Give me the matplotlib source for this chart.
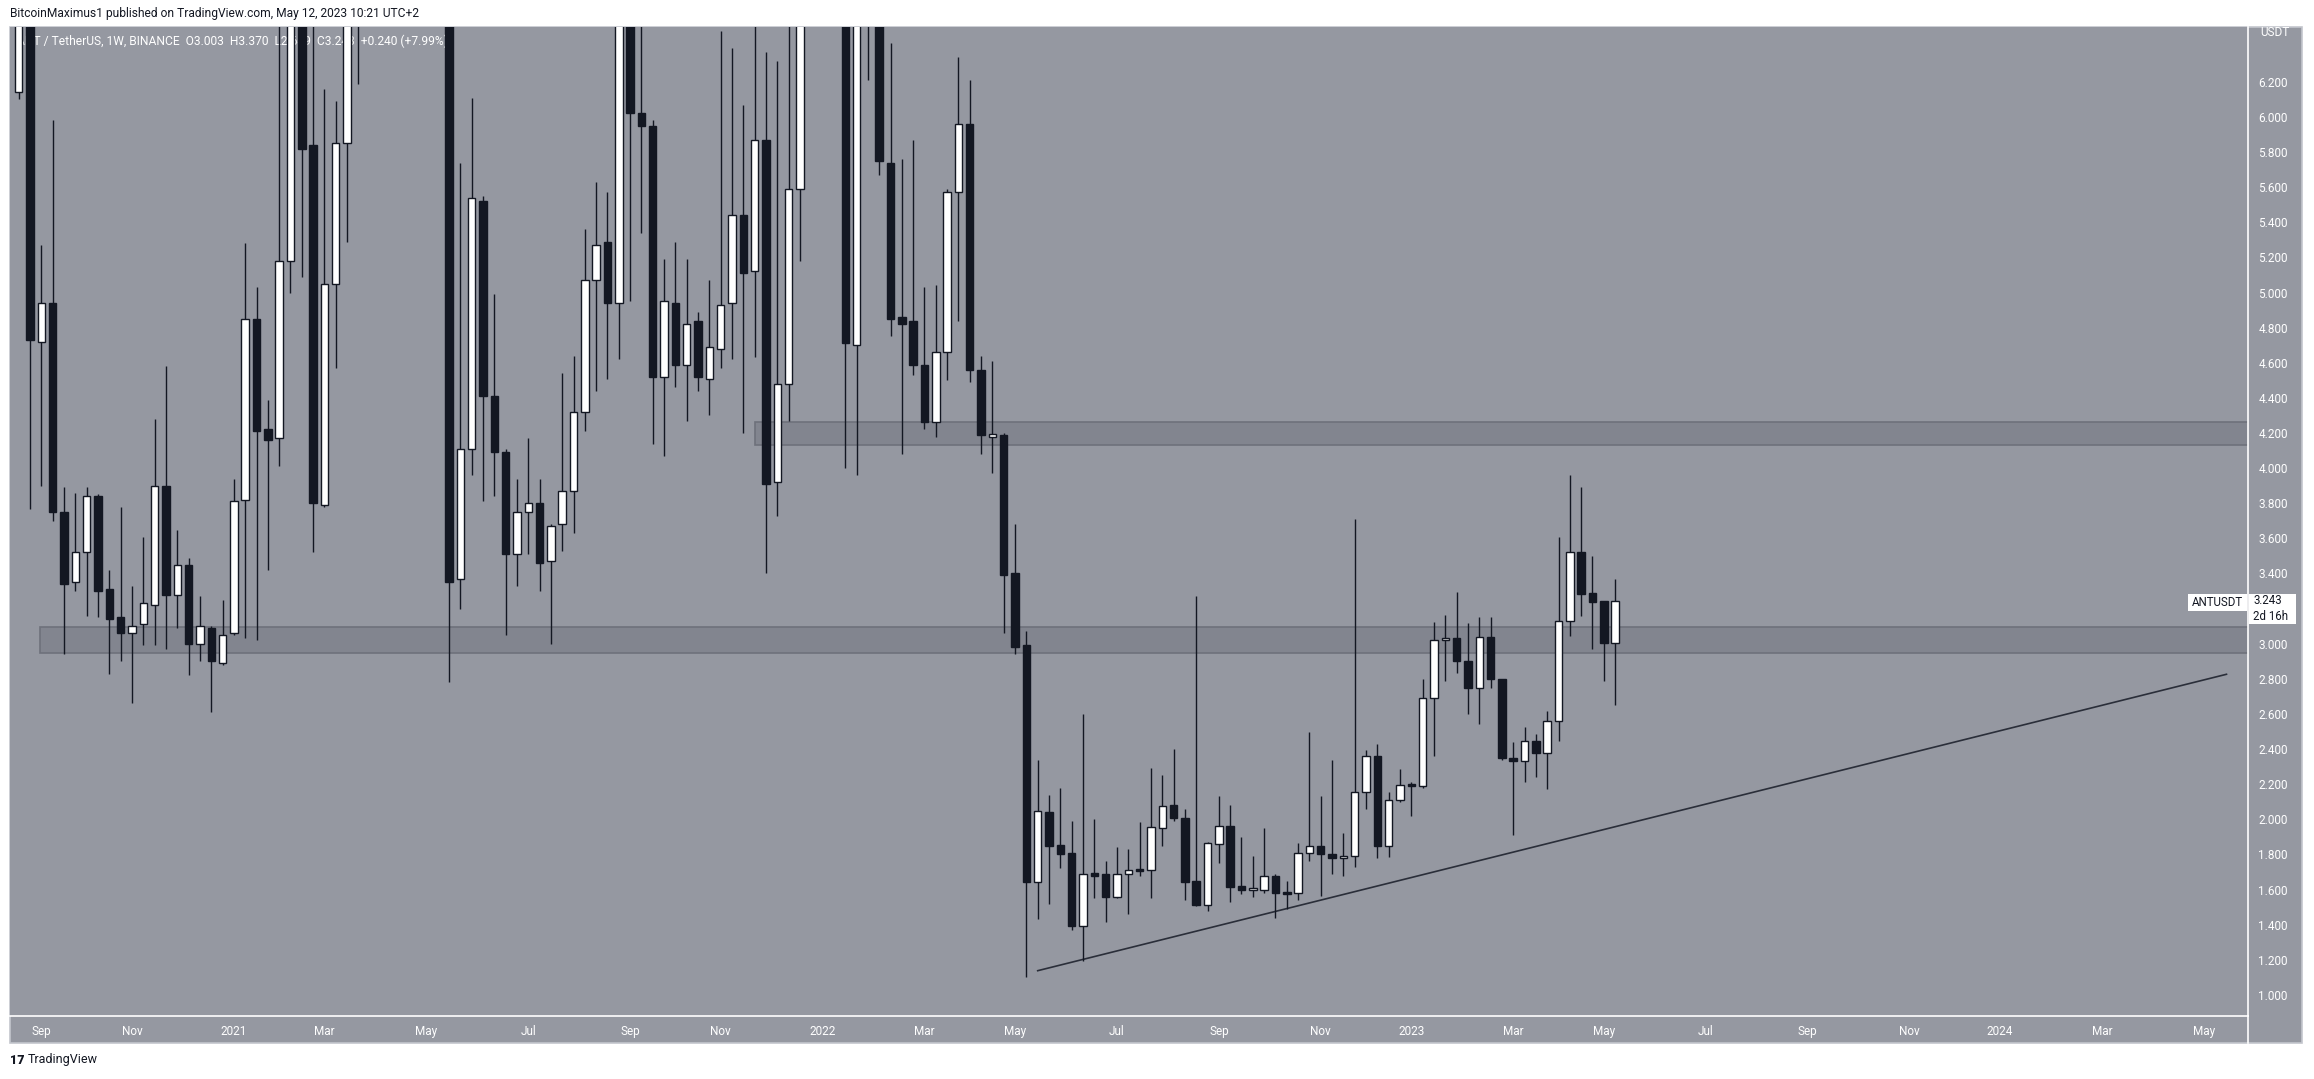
import matplotlib
matplotlib.use("Agg")
import matplotlib.pyplot as plt
import matplotlib.dates as mdates
from matplotlib.patches import Rectangle
from matplotlib.lines import Line2D
import numpy as np
import pandas as pd

plt.rcParams['font.family'] = ['Roboto', 'DejaVu Sans']

W, H = 2314, 1079

# weekly ANT/USDT candles, first bar 2020-08-24 (values read off the chart,
# bars running off the top of the chart are rough guesses)
start = "2020-08-24"
opens = [6.14, 7.05, 4.72, 4.94, 3.75, 3.35, 3.52, 3.84, 3.31, 3.15,
         3.06, 3.11, 3.22, 3.90, 3.28, 3.45, 3.00, 3.09, 2.89, 3.06,
         3.82, 4.85, 4.22, 4.17, 5.18, 7.50, 5.84, 3.79, 5.05, 5.85,
         6.95, 8.20, 9.50, 8.80, 10.20, 9.00, 9.80, 8.60, 7.60, 3.37,
         4.11, 5.52, 4.41, 4.09, 3.51, 3.75, 3.80, 3.47, 3.68, 3.87,
         4.32, 5.07, 5.29, 4.94, 7.20, 6.02, 5.95, 4.52, 4.94, 4.59,
         4.84, 4.51, 4.68, 4.94, 5.44, 5.12, 5.87, 3.92, 4.48, 5.59,
         7.30, 8.00, 7.40, 7.10, 4.70, 7.00, 6.90, 5.74, 4.86, 4.84,
         4.59, 4.26, 4.66, 5.57, 5.96, 4.56, 4.18, 4.19, 3.40, 2.99,
         1.645, 2.04, 1.855, 1.81, 1.39, 1.69, 1.69, 1.555, 1.69, 1.71,
         1.71, 1.95, 2.08, 2.005, 1.65, 1.51, 1.86, 1.96, 1.62, 1.595,
         1.60, 1.68, 1.58, 1.58, 1.81, 1.85, 1.805, 1.78, 1.79, 2.155,
         2.36, 1.85, 2.108, 2.194, 2.19, 2.69, 3.02, 3.03, 2.90, 2.745,
         3.04, 2.80, 2.35, 2.33, 2.445, 2.38, 2.56, 3.13, 3.52, 3.29,
         3.243, 3.003]
highs = [7.40, 7.20, 5.27, 5.98, 3.89, 3.86, 3.89, 3.85, 3.42, 3.78,
         3.33, 3.61, 4.28, 4.58, 3.65, 3.49, 3.27, 3.10, 3.25, 3.94,
         5.28, 5.03, 4.39, 6.80, 7.80, 7.90, 6.90, 6.16, 6.09, 7.20,
         8.60, 9.90, 9.80, 10.60, 10.50, 10.10, 10.00, 8.90, 8.00, 5.74,
         6.11, 5.55, 4.99, 4.11, 3.94, 4.17, 3.94, 3.68, 4.54, 4.64,
         5.36, 5.63, 5.57, 7.60, 7.50, 6.70, 5.98, 5.19, 5.29, 5.19,
         4.89, 5.07, 6.49, 6.39, 6.07, 6.90, 6.37, 6.32, 6.80, 7.60,
         8.50, 8.40, 7.80, 7.30, 7.50, 7.60, 7.10, 6.42, 5.76, 5.87,
         5.03, 5.04, 5.59, 6.34, 6.21, 4.64, 4.61, 4.20, 3.68, 3.07,
         2.34, 2.14, 2.18, 1.99, 2.60, 2.00, 1.76, 1.845, 1.83, 1.985,
         2.29, 2.25, 2.40, 2.06, 3.27, 1.87, 2.13, 2.08, 1.90, 1.79,
         1.95, 1.69, 1.65, 1.865, 2.50, 2.13, 2.34, 1.92, 3.71, 2.394,
         2.43, 2.156, 2.288, 2.212, 2.80, 3.125, 3.165, 3.295, 3.12, 3.15,
         3.15, 2.80, 2.44, 2.525, 2.486, 2.616, 3.61, 3.96, 3.89, 3.50,
         3.245, 3.370]
lows = [6.10, 3.77, 3.90, 3.70, 2.94, 3.30, 3.16, 3.15, 2.83, 2.90,
        2.66, 2.99, 2.99, 2.97, 3.09, 2.82, 2.90, 2.61, 2.88, 3.05,
        3.03, 3.02, 3.42, 4.01, 5.00, 5.09, 3.52, 3.78, 4.57, 5.29,
        6.19, 7.60, 8.40, 8.50, 8.70, 8.60, 8.30, 7.30, 2.78, 3.20,
        3.96, 3.81, 3.84, 3.05, 3.33, 3.51, 3.30, 3.00, 3.53, 3.63,
        4.21, 4.44, 4.51, 4.62, 4.95, 5.34, 4.14, 4.07, 4.46, 4.27,
        4.44, 4.30, 4.57, 4.62, 4.20, 4.63, 3.40, 3.73, 4.27, 5.18,
        6.90, 7.00, 6.80, 4.00, 3.96, 6.21, 5.67, 4.75, 4.08, 4.53,
        4.22, 4.18, 4.50, 4.84, 4.49, 4.08, 3.97, 3.06, 2.94, 1.10,
        1.43, 1.52, 1.725, 1.37, 1.195, 1.55, 1.415, 1.55, 1.46, 1.675,
        1.554, 1.85, 1.99, 1.54, 1.505, 1.48, 1.75, 1.53, 1.575, 1.56,
        1.58, 1.44, 1.49, 1.54, 1.765, 1.565, 1.69, 1.68, 1.73, 2.056,
        1.78, 1.786, 2.096, 2.017, 2.18, 2.36, 2.785, 2.835, 2.597, 2.545,
        2.75, 2.34, 1.91, 2.21, 2.24, 2.17, 2.444, 3.045, 3.16, 2.97,
        2.79, 2.649]
closes = [7.05, 4.73, 4.94, 3.75, 3.34, 3.52, 3.84, 3.30, 3.14, 3.06,
          3.10, 3.23, 3.90, 3.28, 3.45, 3.00, 3.10, 2.90, 3.05, 3.81,
          4.85, 4.21, 4.16, 5.18, 7.50, 5.82, 3.80, 5.05, 5.85, 6.95,
          8.20, 9.50, 8.80, 10.20, 9.00, 9.80, 8.60, 7.60, 3.35, 4.11,
          5.54, 4.41, 4.09, 3.51, 3.75, 3.80, 3.46, 3.67, 3.87, 4.32,
          5.07, 5.27, 4.94, 7.20, 6.02, 5.95, 4.52, 4.95, 4.59, 4.82,
          4.52, 4.69, 4.93, 5.44, 5.11, 5.87, 3.91, 4.48, 5.59, 7.30,
          8.00, 7.40, 7.10, 4.71, 7.00, 6.90, 5.75, 4.85, 4.82, 4.59,
          4.26, 4.66, 5.57, 5.96, 4.56, 4.19, 4.19, 3.39, 2.98, 1.645,
          2.05, 1.85, 1.805, 1.39, 1.69, 1.68, 1.555, 1.69, 1.71, 1.705,
          1.955, 2.075, 2.005, 1.645, 1.51, 1.865, 1.96, 1.617, 1.595, 1.607,
          1.68, 1.58, 1.575, 1.81, 1.85, 1.805, 1.78, 1.79, 2.155, 2.36,
          1.85, 2.11, 2.194, 2.19, 2.69, 3.02, 3.03, 2.90, 2.745, 3.04,
          2.80, 2.35, 2.33, 2.445, 2.38, 2.56, 3.13, 3.52, 3.285, 3.24,
          3.003, 3.243]

# zones and trend line
support_zone = (2.95, 3.095)
support_from = "2020-09-06"
resist_zone = (4.13, 4.265)
resist_from = "2021-11-22"
trend_dates = ["2022-05-16", "2024-05-20"]
trend_prices = [1.138, 2.826]

# 3.200 is covered by the last-price label on the scale
price_ticks = [1.0, 1.2, 1.4, 1.6, 1.8, 2.0, 2.2, 2.4, 2.6, 2.8, 3.0,
               3.4, 3.6, 3.8, 4.0, 4.2, 4.4, 4.6, 4.8, 5.0, 5.2, 5.4, 5.6,
               5.8, 6.0, 6.2]
month_ticks = [(2020, 9), (2020, 11), (2021, 1), (2021, 3), (2021, 5), (2021, 7),
               (2021, 9), (2021, 11), (2022, 1), (2022, 3), (2022, 5), (2022, 7),
               (2022, 9), (2022, 11), (2023, 1), (2023, 3), (2023, 5), (2023, 7),
               (2023, 9), (2023, 11), (2024, 1), (2024, 3), (2024, 5)]
month_labels = ["Sep", "Nov", "2021", "Mar", "May", "Jul", "Sep", "Nov", "2022",
                "Mar", "May", "Jul", "Sep", "Nov", "2023", "Mar", "May", "Jul",
                "Sep", "Nov", "2024", "Mar", "May"]

BG = "#9598a1"
DARK = "#131722"
ZONE = "#82858f"
ZONE_EDGE = "#6e717b"

fig = plt.figure(figsize=(W / 100, H / 100), dpi=100, facecolor="white")

def fx(px):
    return px / W

def fy(py):
    return 1 - py / H

# outer chart frame (plot + both scales)
fig.patches.append(Rectangle((fx(10), fy(1043)), fx(2302) - fx(10), fy(27) - fy(1043),
                             transform=fig.transFigure, facecolor=BG,
                             edgecolor="#c3c6cd", lw=1.2, zorder=-5))

ax = fig.add_axes([fx(10), fy(1016), fx(2248) - fx(10), fy(27) - fy(1016)])
ax.set_facecolor(BG)

dates = pd.date_range(start, periods=len(opens), freq="7D")
x = mdates.date2num(dates)
o = np.array(opens)
h = np.array(highs)
l = np.array(lows)
c = np.array(closes)
up = c >= o

# wicks then bodies
ax.vlines(x, l, h, color=DARK, lw=1.0, zorder=3)
body_lo = np.minimum(o, c)
body_h = np.maximum(np.abs(c - o), 0.012)
ax.bar(x[up], body_h[up], bottom=body_lo[up], width=4.6, color="white",
       edgecolor=DARK, lw=1.0, zorder=4)
ax.bar(x[~up], body_h[~up], bottom=body_lo[~up], width=4.6, color=DARK,
       edgecolor=DARK, lw=1.0, zorder=4)

x0 = mdates.date2num(pd.Timestamp(start))
xmin = x0 - 0.773 * 7
xmax = x0 + 196.9 * 7
ax.set_xlim(xmin, xmax)
ax.set_ylim(0.880, 6.512)

# horizontal zones
for (lo, hi), frm in [(support_zone, support_from), (resist_zone, resist_from)]:
    xs = mdates.date2num(pd.Timestamp(frm))
    ax.add_patch(Rectangle((xs, lo), xmax + 50 - xs, hi - lo, facecolor=ZONE,
                           edgecolor=ZONE_EDGE, lw=1.2, zorder=1))

ax.plot(mdates.date2num(pd.to_datetime(trend_dates)), trend_prices,
        color="#2a2e39", lw=1.2, zorder=2)

# ticks
weeks = pd.date_range(start, periods=220, freq="7D")
tick_pos = []
for yr, mo in month_ticks:
    first = weeks[(weeks.year == yr) & (weeks.month == mo)][0]
    tick_pos.append(mdates.date2num(first))
ax.set_xticks(tick_pos)
ax.set_xticklabels(month_labels)
ax.yaxis.tick_right()
ax.set_yticks(price_ticks)
ax.set_yticklabels([f"{v:.3f}" for v in price_ticks])
ax.tick_params(axis="y", length=0, pad=7.5, labelsize=8.5, labelcolor="white")
ax.tick_params(axis="x", length=0, pad=6.5, labelsize=8.5, labelcolor="white")

for s in ["top", "left"]:
    ax.spines[s].set_visible(False)
for s in ["right", "bottom"]:
    ax.spines[s].set_color("white")
    ax.spines[s].set_linewidth(1.2)

fig.add_artist(Line2D([fx(2248), fx(2248)], [fy(1016), fy(1043)], color="white",
                      lw=1.2, transform=fig.transFigure))

# legend line in the pane (sits under the candles)
ax.text(0.003, 0.986, "ANT / TetherUS, 1W, BINANCE  O3.003  H3.370  L2.649  C3.243  +0.240 (+7.99%)",
        transform=ax.transAxes, color="white", fontsize=8.65, va="center", ha="left", zorder=2)

# price scale header and last price labels
fig.text(fx(2275), fy(33), "USDT", color="white", fontsize=8.5, ha="center", va="center")
fig.patches.append(Rectangle((fx(2188), fy(611)), fx(2247) - fx(2188), fy(594) - fy(611),
                             transform=fig.transFigure, facecolor="white",
                             edgecolor="none", zorder=5))
fig.text(fx(2217.5), fy(602.5), "ANTUSDT", color=DARK, fontsize=8.3, ha="center", va="center",
         zorder=6)
fig.patches.append(Rectangle((fx(2249), fy(624)), fx(2296) - fx(2249), fy(594) - fy(624),
                             transform=fig.transFigure, facecolor="white",
                             edgecolor="none", zorder=5))
fig.text(fx(2253), fy(601), "3.243", color=DARK, fontsize=8.3, ha="left", va="center", zorder=6)
fig.text(fx(2253), fy(617), "2d 16h", color=DARK, fontsize=8.3, ha="left", va="center", zorder=6)

fig.text(fx(10), fy(13), "BitcoinMaximus1 published on TradingView.com, May 12, 2023 10:21 UTC+2",
         color=DARK, fontsize=8.65, ha="left", va="center")
fig.text(fx(10), fy(1060), "17", color=DARK, fontsize=9, fontweight="heavy",
         ha="left", va="center")
fig.text(fx(28), fy(1060), "TradingView", color=DARK, fontsize=9, ha="left", va="center")

fig.savefig("out.png", dpi=100, facecolor="white")
